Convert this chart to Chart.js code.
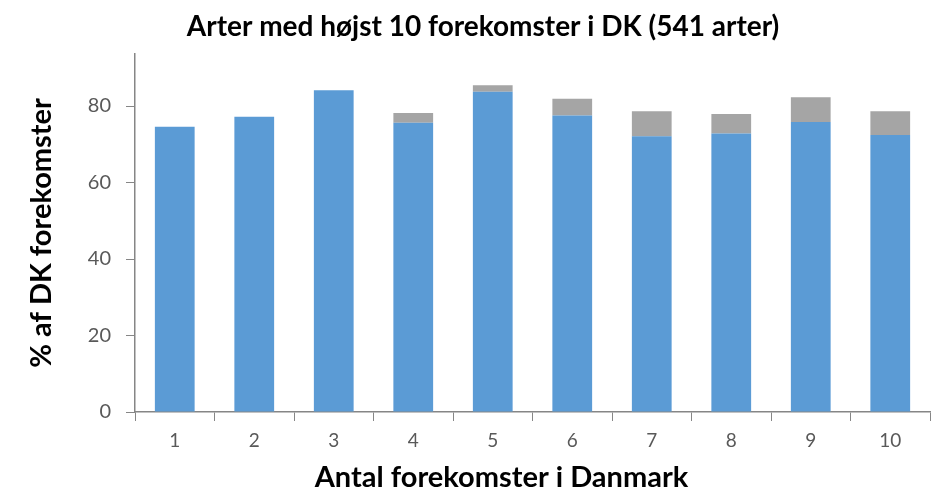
<!DOCTYPE html>
<html>
<head>
<meta charset="utf-8">
<script src="https://cdn.jsdelivr.net/npm/chart.js@4/dist/chart.umd.min.js"></script>
<style>
  html, body { margin: 0; padding: 0; background: #ffffff; }
  #wrap { width: 935px; height: 494px; position: relative; }
</style>
</head>
<body>
<div id="wrap"><canvas id="c" width="935" height="494"></canvas></div>
<script>
const categories = ["1", "2", "3", "4", "5", "6", "7", "8", "9", "10"];
const blueValues = [74.6, 77.2, 84.1, 75.6, 83.7, 77.5, 72.1, 72.8, 75.8, 72.4];
const grayValues = [0, 0, 0, 2.6, 1.7, 4.4, 6.5, 5.1, 6.5, 6.2];
const yTicks = [0, 20, 40, 60, 80];
const yMax = 93.6;

const titleText = "Arter med højst 10 forekomster i DK (541 arter)";
const xTitle = "Antal forekomster i Danmark";
const yTitle = "% af DK forekomster";

const fontFamily = "Lato, 'Open Sans', sans-serif";
const axisColor = "#868686";
const labelColor = "#595959";

// x-axis title, centred where the reference places it (slightly left of the plot centre)
const xTitlePlugin = {
  id: "xTitlePlugin",
  afterDraw(chart) {
    const ctx = chart.ctx;
    const xs = chart.scales.x;
    ctx.save();
    ctx.fillStyle = "#000000";
    ctx.font = "bold 29px " + fontFamily;
    ctx.textAlign = "center";
    ctx.textBaseline = "middle";
    const cx = (xs.left + xs.right) / 2 - 31;
    ctx.fillText(xTitle, cx, xs.bottom - 16);
    ctx.restore();
  }
};

new Chart(document.getElementById("c"), {
  type: "bar",
  data: {
    labels: categories,
    datasets: [
      { label: "Serie 1", data: blueValues, backgroundColor: "#5B9BD5", borderWidth: 0,
        barPercentage: 0.5, categoryPercentage: 1.0 },
      { label: "Serie 2", data: grayValues, backgroundColor: "#A5A5A5", borderWidth: 0,
        barPercentage: 0.5, categoryPercentage: 1.0 }
    ]
  },
  plugins: [xTitlePlugin],
  options: {
    responsive: false,
    animation: false,
    devicePixelRatio: 1,
    layout: { padding: { left: 36, right: 5, top: 0, bottom: 0 } },
    plugins: {
      legend: { display: false },
      tooltip: { enabled: false },
      title: {
        display: true,
        text: titleText,
        color: "#000000",
        font: { family: fontFamily, size: 28, weight: "bold", lineHeight: 1.2 },
        padding: { top: 10, bottom: 10.4 }
      }
    },
    scales: {
      x: {
        stacked: true,
        grid: { drawOnChartArea: false, drawTicks: true, tickLength: 9, color: axisColor, offset: true },
        border: { display: true, color: axisColor, width: 1.5 },
        ticks: { color: labelColor, font: { family: fontFamily, size: 19 }, padding: 8, maxRotation: 0 },
        title: { display: false },
        afterFit: (scale) => { scale.height = 82; }
      },
      y: {
        stacked: true,
        min: 0,
        max: yMax,
        afterBuildTicks: (scale) => { scale.ticks = yTicks.map(v => ({ value: v })); },
        grid: { drawOnChartArea: false, drawTicks: true, tickLength: 9, color: axisColor },
        border: { display: true, color: axisColor, width: 1.5 },
        ticks: { color: labelColor, font: { family: fontFamily, size: 20 }, padding: 15, includeBounds: false },
        title: {
          display: true, text: yTitle, color: "#000000",
          font: { family: fontFamily, size: 29, weight: "bold", lineHeight: 1.0 },
          padding: { top: -8.5, bottom: 0 }
        },
        afterFit: (scale) => { scale.width = 99; }
      }
    }
  }
});
</script>
</body>
</html>
